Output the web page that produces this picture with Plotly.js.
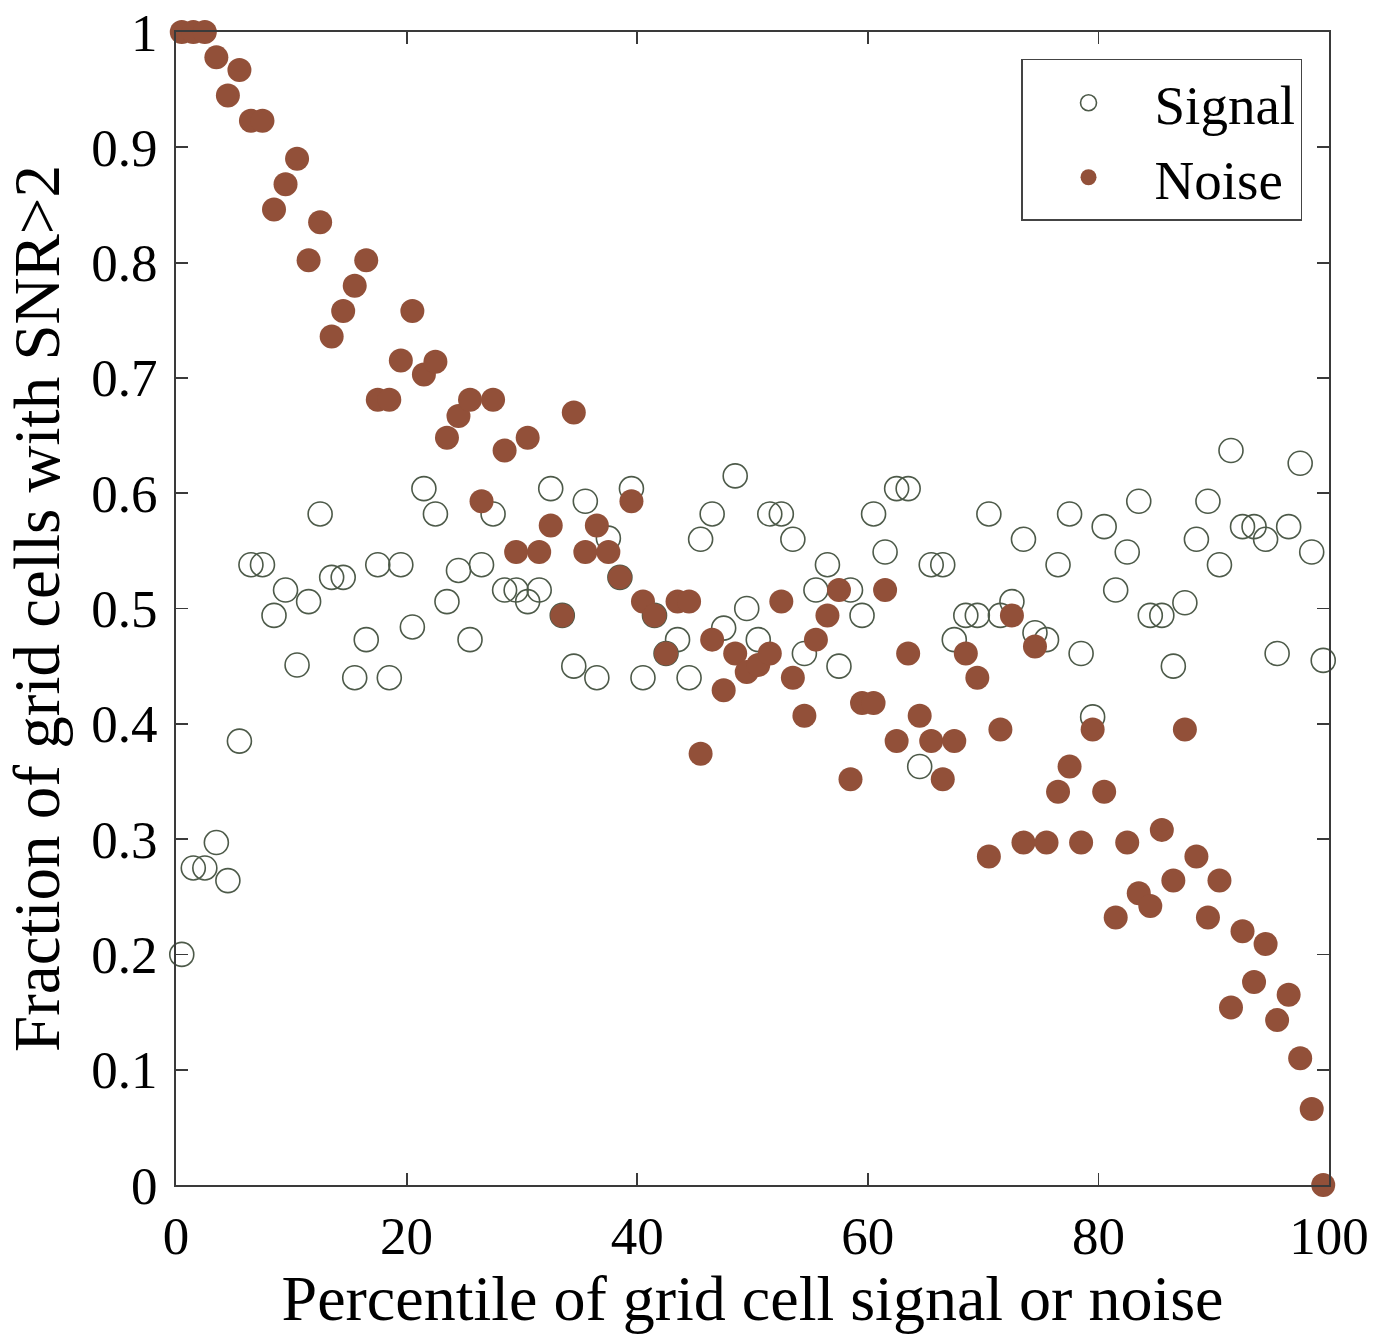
<!DOCTYPE html>
<html>
<head>
<meta charset="utf-8">
<script src="https://cdn.plot.ly/plotly-3.0.1.min.js"></script>
<style>html,body{margin:0;padding:0;background:#fff;}#chart{width:1386px;height:1334px;}</style>
</head>
<body>
<div id="chart"></div>
<script>
// Percentile bins (x positions at bin centres)
const percentile = [0.5,1.5,2.5,3.5,4.5,5.5,6.5,7.5,8.5,9.5,10.5,11.5,12.5,13.5,14.5,15.5,16.5,17.5,18.5,19.5,
  20.5,21.5,22.5,23.5,24.5,25.5,26.5,27.5,28.5,29.5,30.5,31.5,32.5,33.5,34.5,35.5,36.5,37.5,38.5,39.5,
  40.5,41.5,42.5,43.5,44.5,45.5,46.5,47.5,48.5,49.5,50.5,51.5,52.5,53.5,54.5,55.5,56.5,57.5,58.5,59.5,
  60.5,61.5,62.5,63.5,64.5,65.5,66.5,67.5,68.5,69.5,70.5,71.5,72.5,73.5,74.5,75.5,76.5,77.5,78.5,79.5,
  80.5,81.5,82.5,83.5,84.5,85.5,86.5,87.5,88.5,89.5,90.5,91.5,92.5,93.5,94.5,95.5,96.5,97.5,98.5,99.5];

const signalFrac = [0.200,0.275,0.275,0.297,0.264,0.385,0.538,0.538,0.494,0.516,
  0.451,0.506,0.582,0.527,0.527,0.440,0.473,0.538,0.440,0.538,
  0.484,0.604,0.582,0.506,0.533,0.473,0.538,0.582,0.516,0.516,
  0.506,0.516,0.604,0.494,0.450,0.593,0.440,0.561,0.527,0.604,
  0.440,0.494,0.461,0.473,0.440,0.560,0.582,0.483,0.615,0.500,
  0.473,0.582,0.582,0.560,0.461,0.516,0.538,0.450,0.516,0.494,
  0.582,0.549,0.604,0.604,0.363,0.538,0.538,0.473,0.494,0.494,
  0.582,0.494,0.506,0.560,0.479,0.473,0.538,0.582,0.461,0.406,
  0.571,0.516,0.549,0.593,0.494,0.494,0.450,0.505,0.560,0.593,
  0.538,0.637,0.571,0.571,0.560,0.461,0.571,0.626,0.549,0.455];

const noiseFrac = [1.000,1.000,1.000,0.978,0.945,0.967,0.923,0.923,0.846,0.868,
  0.890,0.802,0.835,0.736,0.758,0.780,0.802,0.681,0.681,0.715,
  0.758,0.703,0.714,0.648,0.667,0.681,0.593,0.681,0.637,0.549,
  0.648,0.549,0.572,0.494,0.670,0.549,0.572,0.549,0.527,0.593,
  0.506,0.494,0.461,0.506,0.506,0.374,0.473,0.429,0.461,0.445,
  0.451,0.461,0.506,0.440,0.407,0.473,0.494,0.516,0.352,0.418,
  0.418,0.516,0.385,0.461,0.407,0.385,0.352,0.385,0.461,0.440,
  0.285,0.395,0.494,0.297,0.467,0.297,0.341,0.363,0.297,0.395,
  0.341,0.232,0.297,0.253,0.242,0.308,0.264,0.395,0.285,0.232,
  0.264,0.154,0.220,0.176,0.209,0.143,0.165,0.110,0.066,0.000];

const xTicks = [0,20,40,60,80,100];
const yTicks = [0,0.1,0.2,0.3,0.4,0.5,0.6,0.7,0.8,0.9,1];
const yTickText = ['0','0.1','0.2','0.3','0.4','0.5','0.6','0.7','0.8','0.9','1'];

const FONT = '"Liberation Serif", "DejaVu Serif", serif';
const AXC = '#3a3a3a';

const traces = [
  {x: percentile, y: signalFrac, name: 'Signal', type: 'scatter', mode: 'markers', cliponaxis: false,
   marker: {symbol: 'circle-open', size: 24, color: '#4d5a49', line: {width: 1.6, color: '#4d5a49'}}},
  {x: percentile, y: noiseFrac, name: 'Noise', type: 'scatter', mode: 'markers', cliponaxis: false,
   marker: {symbol: 'circle', size: 24, color: '#925039', line: {width: 0}}}
];

const layout = {
  width: 1386, height: 1334,
  margin: {l: 176, r: 57, t: 32, b: 149},
  paper_bgcolor: '#fff', plot_bgcolor: '#fff',
  font: {family: FONT, color: '#000', size: 52},
  showlegend: true,
  legend: {x: 0.9766, y: 0.9766, xanchor: 'right', yanchor: 'top',
    bordercolor: '#444', borderwidth: 1.5, bgcolor: '#fff',
    font: {family: FONT, size: 55, color: '#000'}, itemwidth: 122, tracegroupgap: 0},
  xaxis: {range: [0, 100], tickmode: 'array', tickvals: xTicks, ticktext: xTicks.map(String),
    ticks: 'inside', ticklen: 12, tickwidth: 1.8, tickcolor: AXC,
    showline: true, linecolor: AXC, linewidth: 1.8, mirror: 'ticks', showgrid: false, zeroline: false,
    tickfont: {family: FONT, size: 53, color: '#000'}, ticklabelstandoff: 4,
    title: {text: 'Percentile of grid cell signal or noise', font: {family: FONT, size: 64, color: '#000'}, standoff: 2}},
  yaxis: {range: [0, 1], tickmode: 'array', tickvals: yTicks, ticktext: yTickText,
    ticks: 'inside', ticklen: 12, tickwidth: 1.8, tickcolor: AXC,
    showline: true, linecolor: AXC, linewidth: 1.8, mirror: 'ticks', showgrid: false, zeroline: false,
    tickfont: {family: FONT, size: 53, color: '#000'}, ticklabelstandoff: 6,
    title: {text: 'Fraction of grid cells with SNR&gt;2', font: {family: FONT, size: 65, color: '#000'}, standoff: 10}}
};

Plotly.newPlot('chart', traces, layout, {displayModeBar: false, staticPlot: true});
</script>
</body>
</html>
